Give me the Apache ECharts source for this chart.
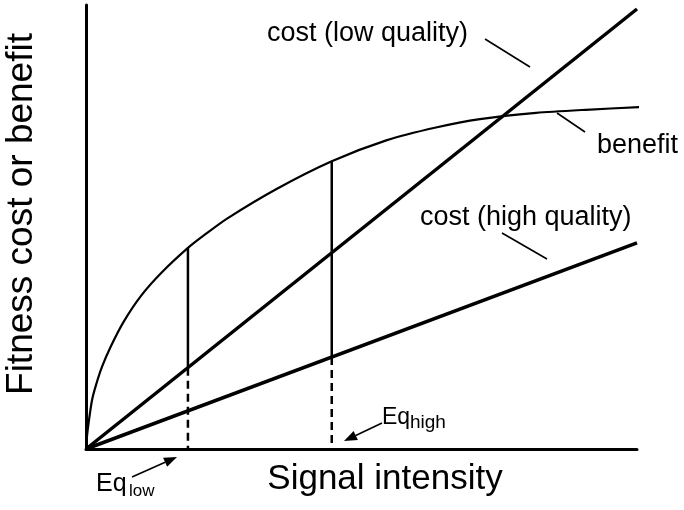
<!DOCTYPE html>
<html>
<head>
<meta charset="utf-8">
<title>Signal cost and benefit</title>
<script src="https://cdn.jsdelivr.net/npm/echarts@6/dist/echarts.min.js"></script>
<style>
  html, body { margin: 0; padding: 0; background: #fff; }
  #main { width: 684px; height: 510px; }
</style>
</head>
<body>
<div id="main"></div>
<script>
'use strict';

/* ===== data (x: signal intensity 0-100, y: fitness 0-100) ===== */
var costLow = [[0, 0], [100, 99.1]];
var costHigh = [[0, 0], [100, 46.4]];
var benefit = [
  [0, 0], [0.18, 2.9], [0.54, 6.5], [1.09, 11.0], [1.81, 14.4], [2.9, 18.5],
  [4.54, 23.2], [6.9, 28.8], [9.98, 34.5], [13.6, 39.6], [18.5, 45.3],
  [21.8, 48.5], [25.6, 51.9], [34.5, 58.5], [44.6, 64.8], [54.5, 69.5],
  [63.5, 72.4], [71.5, 74.3], [81.7, 75.7], [90.7, 76.4], [100.5, 77.0]
];
// equilibrium signals: low quality, high quality
var eqX = [18.5, 44.6];
var eqBenefit = [45.3, 64.8];
var eqCost = [18.3, 20.7];

var FONT = '"Liberation Sans", Arial, sans-serif';
var INK = '#000';

var myChart = echarts.init(document.getElementById('main'));

function lineSeries(data, width, type) {
  return {
    type: 'line',
    data: data,
    symbol: 'none',
    silent: true,
    clip: false,
    animation: false,
    lineStyle: { color: INK, width: width, type: type || 'solid', join: 'round' }
  };
}

var series = [
  lineSeries(costLow, 3.5),
  lineSeries(costHigh, 3.5),
  Object.assign(lineSeries(benefit, 2.2), { smooth: 0.25 })
];
for (var i = 0; i < eqX.length; i++) {
  series.push(lineSeries([[eqX[i], eqBenefit[i]], [eqX[i], eqCost[i]]], 2.5));
  series.push(lineSeries([[eqX[i], eqCost[i]], [eqX[i], 0]], 2.5, [8, 5]));
}

/* ===== annotations ===== */
function label(text, x, y, size, align) {
  return {
    type: 'text',
    silent: true,
    style: {
      text: text, x: x, y: y, fill: INK,
      font: size + 'px ' + FONT,
      textAlign: align || 'left', textVerticalAlign: 'middle'
    }
  };
}
function leader(x1, y1, x2, y2) {
  return {
    type: 'line', silent: true,
    shape: { x1: x1, y1: y1, x2: x2, y2: y2 },
    style: { stroke: INK, lineWidth: 1.6 }
  };
}
function arrow(tx, ty, hx, hy) {
  var dx = hx - tx, dy = hy - ty, len = Math.sqrt(dx * dx + dy * dy);
  var ux = dx / len, uy = dy / len, nx = -uy, ny = ux;
  var bx = hx - 13 * ux, by = hy - 13 * uy;
  return [
    leader(tx, ty, bx, by),
    {
      type: 'polygon', silent: true,
      shape: { points: [[hx, hy], [bx + 5 * nx, by + 5 * ny], [bx - 5 * nx, by - 5 * ny]] },
      style: { fill: INK }
    }
  ];
}

var graphic = [
  label('cost (low quality)', 267, 34, 27),
  leader(485, 39, 530, 67),
  label('benefit', 597, 146, 27),
  leader(557, 113, 585, 132),
  label('cost (high quality)', 420, 218, 27),
  leader(502, 233, 547, 259),
  label('Eq', 96, 484, 25),
  label('low', 129, 491, 17),
  label('Eq', 382, 418, 23),
  label('high', 410, 423, 19),
  label('Signal intensity', 385, 479, 35, 'center'),
  {
    type: 'text', silent: true,
    x: 22, y: 214, rotation: Math.PI / 2,
    style: {
      text: 'Fitness cost or benefit', x: 0, y: 0, fill: INK,
      font: '37px ' + FONT, textAlign: 'center', textVerticalAlign: 'middle'
    }
  }
].concat(arrow(132, 477, 177, 457), arrow(382, 423, 344, 441));

var axisCommon = {
  type: 'value',
  min: 0,
  max: 100,
  splitLine: { show: false },
  axisTick: { show: false },
  axisLabel: { show: false },
  axisLine: { show: true, lineStyle: { color: INK, width: 3 } }
};

var option = {
  backgroundColor: '#fff',
  animation: false,
  grid: { left: 86, right: 47, top: 5, bottom: 61 },
  xAxis: axisCommon,
  yAxis: axisCommon,
  series: series,
  graphic: graphic
};

myChart.setOption(option);
</script>
</body>
</html>
